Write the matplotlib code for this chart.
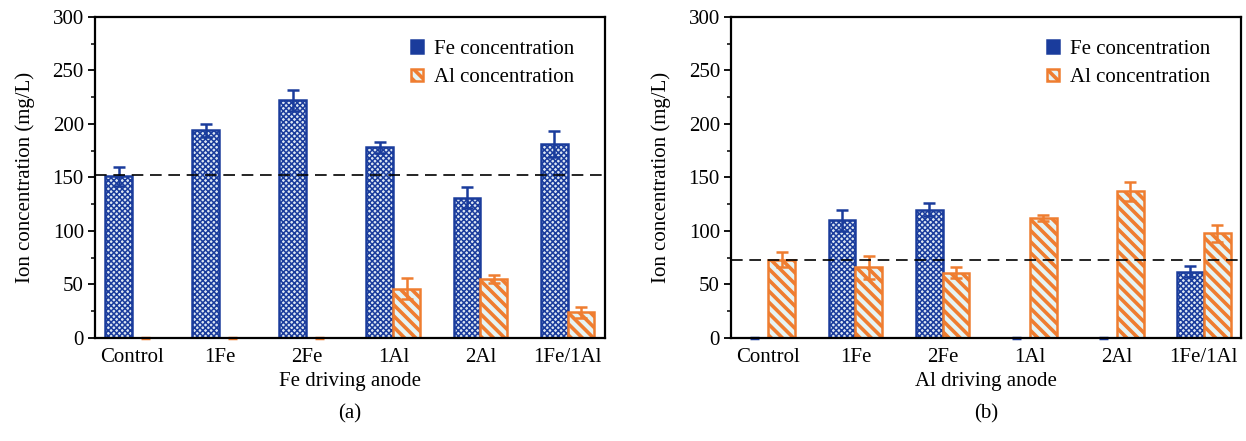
import numpy as np
import matplotlib.pyplot as plt
from matplotlib.ticker import MultipleLocator

plt.rcParams['font.family'] = ['Liberation Serif', 'DejaVu Serif']
plt.rcParams['font.size'] = 15

groups = ["Control", "1Fe", "2Fe", "1Al", "2Al", "1Fe/1Al"]

# Fe driving anode
fe_a = [151, 194, 222, 178, 131, 181]
fe_a_err = [9, 6, 10, 5, 10, 12]
al_a = [0, 0, 0, 46, 55, 24]
al_a_err = [0, 0, 0, 10, 4, 5]
ref_a = 152

# Al driving anode
fe_b = [0, 110, 120, 0, 0, 62]
fe_b_err = [0, 10, 6, 0, 0, 5]
al_b = [73, 66, 61, 112, 137, 98]
al_b_err = [7, 11, 5, 3, 9, 8]
ref_b = 73

fe_col = "#1a3c9c"
al_col = "#ef7d30"
width = 0.31

fig = plt.figure(figsize=(12.46, 4.41), dpi=100)
ax_a = fig.add_axes([0.0762, 0.2336, 0.4093, 0.728])
ax_b = fig.add_axes([0.5867, 0.2336, 0.4093, 0.728])


def panel(ax, fe, fe_err, al, al_err, ref, xlabel, tag):
    x = np.arange(len(groups))
    xf = x - width / 2
    xa = x + width / 2
    plt.rcParams['hatch.linewidth'] = 1.1
    ax.bar(xf, fe, width, color="#dce6f3", edgecolor=fe_col,
           hatch="xxxxxx", linewidth=1.8, label="Fe concentration", zorder=2)
    plt.rcParams['hatch.linewidth'] = 2.6
    ax.bar(xa, al, width, color="#e6f4f4", edgecolor=al_col,
           hatch="\\\\\\", linewidth=1.8, label="Al concentration", zorder=2)

    # zero-valued bars only show as a short stub on the baseline
    for xs, vals, c in ((xf, fe, fe_col), (xa, al, al_col)):
        for xi, v in zip(xs, vals):
            if v == 0:
                ax.hlines(v, xi - width / 6, xi + width / 6, color=c, lw=2.5,
                          zorder=1, clip_on=False)

    for xs, vals, errs, c in ((xf, fe, fe_err, fe_col), (xa, al, al_err, al_col)):
        for xi, v, e in zip(xs, vals, errs):
            if v > 0:
                ax.errorbar(xi, v, yerr=e, color=c, capsize=4.5, lw=1.8,
                            capthick=1.8, zorder=3)
    ax.axhline(ref, color="black", ls=(0, (7, 4)), lw=1.2, zorder=4)

    ax.set_xlim(-0.43, 5.43)
    ax.set_ylim(0, 300)
    ax.set_xticks(x)
    ax.set_xticklabels(groups)
    ax.tick_params(axis="x", length=0, pad=7)
    ax.yaxis.set_major_locator(MultipleLocator(50))
    ax.yaxis.set_minor_locator(MultipleLocator(25))
    ax.tick_params(axis="y", which="major", direction="out", length=5, width=1.3, pad=3)
    ax.tick_params(axis="y", which="minor", direction="out", length=3, width=1.1)
    for s in ax.spines.values():
        s.set_linewidth(1.6)
        s.set_zorder(5)
    ax.set_ylabel("Ion concentration (mg/L)", labelpad=13)
    ax.set_xlabel(xlabel, labelpad=4)
    ax.text(0.5, -0.205, tag, transform=ax.transAxes, ha="center", va="top")
    ax.legend(loc="upper right", frameon=False, handlelength=0.55,
              handleheight=0.55, handletextpad=0.55, labelspacing=0.45,
              borderaxespad=0.7, bbox_to_anchor=(0.985, 1.0))


panel(ax_a, fe_a, fe_a_err, al_a, al_a_err, ref_a, "Fe driving anode", "(a)")
panel(ax_b, fe_b, fe_b_err, al_b, al_b_err, ref_b, "Al driving anode", "(b)")

fig.savefig("out.png", dpi=100)
